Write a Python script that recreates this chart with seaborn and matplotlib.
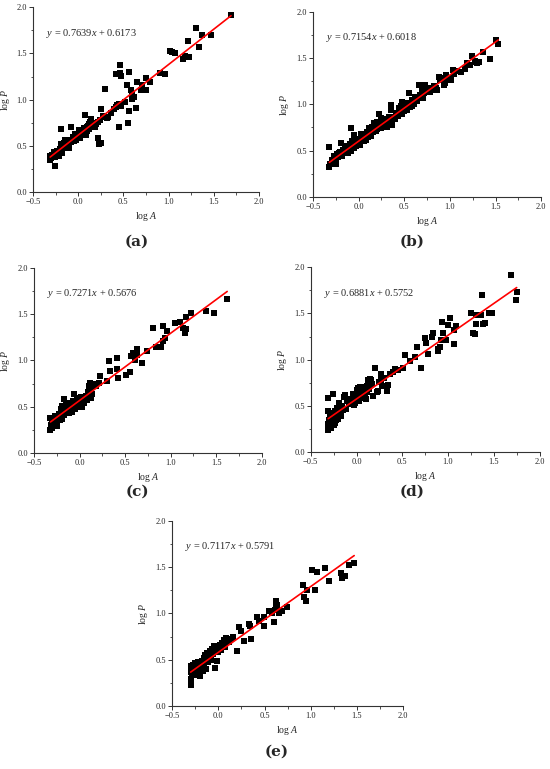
import matplotlib
matplotlib.use("Agg")
import matplotlib.pyplot as plt
import seaborn as sns
import numpy as np
from matplotlib.ticker import MultipleLocator

sns.set_style("ticks")
plt.rcParams['font.family'] = ['Liberation Serif', 'DejaVu Serif']
plt.rcParams['mathtext.fontset'] = 'custom'
plt.rcParams['mathtext.rm'] = 'Liberation Serif'
plt.rcParams['mathtext.it'] = 'Liberation Serif:italic'

# (log A, log P) points
a_points = [
    (1.69, 1.92), (1.30, 1.78), (1.37, 1.70), (1.47, 1.70), (1.34, 1.57), (1.21, 1.63),
    (1.18, 1.47), (1.16, 1.44), (1.23, 1.46), (1.01, 1.53), (1.04, 1.52), (1.07, 1.50),
    (0.96, 1.28), (0.90, 1.29), (0.75, 1.24), (0.79, 1.19), (0.65, 1.19), (0.71, 1.16),
    (0.75, 1.11), (0.69, 1.11), (0.58, 1.11), (0.46, 1.38), (0.42, 1.28), (0.46, 1.29),
    (0.47, 1.26), (0.56, 1.30), (0.54, 1.16), (0.30, 1.12), (0.60, 1.05), (0.62, 1.03),
    (0.59, 1.01), (0.52, 0.98), (0.47, 0.93), (0.42, 0.92), (0.45, 0.95), (0.64, 0.91),
    (0.56, 0.88), (0.45, 0.70), (0.55, 0.75), (0.25, 0.90), (0.07, 0.83), (0.30, 0.81),
    (0.33, 0.81), (0.22, 0.59), (0.25, 0.53), (0.23, 0.52), (-0.08, 0.70), (-0.19, 0.68),
    (-0.26, 0.28), (-0.31, 0.39), (-0.31, 0.35), (-0.30, 0.37), (-0.29, 0.40), (-0.27, 0.44),
    (-0.26, 0.38), (-0.25, 0.42), (-0.24, 0.45), (-0.23, 0.40), (-0.22, 0.43), (-0.21, 0.39),
    (-0.20, 0.47), (-0.19, 0.52), (-0.18, 0.50), (-0.18, 0.42), (-0.17, 0.48), (-0.16, 0.53),
    (-0.15, 0.57), (-0.14, 0.51), (-0.13, 0.55), (-0.12, 0.50), (-0.11, 0.53), (-0.10, 0.48),
    (-0.09, 0.56), (-0.08, 0.54), (-0.07, 0.57), (-0.06, 0.60), (-0.05, 0.55), (-0.04, 0.63),
    (-0.03, 0.58), (-0.02, 0.56), (-0.01, 0.60), (0.00, 0.62), (0.01, 0.67), (0.02, 0.59),
    (0.03, 0.64), (0.05, 0.66), (0.06, 0.69), (0.08, 0.64), (0.09, 0.62), (0.10, 0.70),
    (0.11, 0.72), (0.12, 0.68), (0.13, 0.76), (0.14, 0.79), (0.15, 0.73), (0.16, 0.70),
    (0.17, 0.72), (0.18, 0.75), (0.19, 0.71), (0.20, 0.74), (0.22, 0.76), (0.24, 0.78),
    (0.27, 0.82), (0.32, 0.80), (0.40, 0.90), (0.43, 0.94), (0.36, 0.86), (0.10, 0.66),
    (0.12, 0.74)]

b_points = [
    (1.50, 1.70), (1.53, 1.65), (1.36, 1.57), (1.24, 1.52), (1.28, 1.46), (1.32, 1.46),
    (1.19, 1.45), (1.08, 1.36), (1.03, 1.37), (0.96, 1.32), (0.88, 1.30), (0.92, 1.28),
    (0.86, 1.16), (0.95, 1.23), (0.79, 1.18), (0.73, 1.21), (0.66, 1.21), (0.69, 1.16),
    (0.62, 1.08), (0.55, 1.12), (0.47, 1.03), (0.35, 0.99), (0.36, 0.94), (0.22, 0.90),
    (-0.08, 0.74), (-0.32, 0.54), (-0.32, 0.32), (-0.31, 0.35), (-0.29, 0.40), (-0.28, 0.38),
    (-0.27, 0.44), (-0.26, 0.42), (-0.25, 0.40), (-0.24, 0.46), (-0.23, 0.43), (-0.22, 0.47),
    (-0.21, 0.44), (-0.20, 0.48), (-0.19, 0.58), (-0.18, 0.46), (-0.17, 0.51), (-0.16, 0.49),
    (-0.15, 0.55), (-0.14, 0.47), (-0.13, 0.53), (-0.12, 0.50), (-0.11, 0.54), (-0.10, 0.52),
    (-0.09, 0.57), (-0.08, 0.50), (-0.07, 0.60), (-0.06, 0.56), (-0.05, 0.67), (-0.04, 0.58),
    (-0.03, 0.55), (-0.02, 0.62), (-0.01, 0.59), (0.00, 0.57), (0.01, 0.63), (0.02, 0.60),
    (0.03, 0.68), (0.04, 0.62), (0.05, 0.65), (0.06, 0.60), (0.07, 0.68), (0.08, 0.66),
    (0.09, 0.70), (0.10, 0.65), (0.11, 0.74), (0.12, 0.68), (0.13, 0.72), (0.14, 0.66),
    (0.15, 0.75), (0.16, 0.70), (0.17, 0.80), (0.18, 0.73), (0.19, 0.71), (0.20, 0.81),
    (0.21, 0.76), (0.23, 0.79), (0.24, 0.74), (0.25, 0.85), (0.26, 0.78), (0.27, 0.76),
    (0.28, 0.82), (0.29, 0.79), (0.30, 0.84), (0.31, 0.76), (0.32, 0.80), (0.33, 0.83),
    (0.34, 0.85), (0.37, 0.78), (0.38, 0.86), (0.40, 0.84), (0.41, 0.88), (0.42, 0.91),
    (0.43, 0.87), (0.44, 0.96), (0.45, 0.92), (0.46, 0.98), (0.48, 0.90), (0.49, 0.95),
    (0.50, 0.93), (0.51, 0.99), (0.52, 0.96), (0.53, 0.94), (0.54, 1.02), (0.56, 0.97),
    (0.57, 1.00), (0.58, 0.98), (0.59, 1.05), (0.60, 1.03), (0.61, 1.00), (0.63, 1.06),
    (0.64, 1.04), (0.65, 1.08), (0.67, 1.10), (0.70, 1.07), (0.72, 1.12), (0.74, 1.14),
    (0.76, 1.17), (0.78, 1.13), (0.81, 1.15), (0.83, 1.20), (0.85, 1.18), (0.89, 1.26),
    (0.93, 1.21), (0.98, 1.29), (1.01, 1.26), (1.05, 1.33), (1.12, 1.35), (1.16, 1.38),
    (1.22, 1.42), (1.27, 1.47), (1.30, 1.45), (1.44, 1.49), (-0.25, 0.36), (-0.18, 0.44),
    (-0.12, 0.47), (-0.05, 0.53), (0.02, 0.56), (0.08, 0.61), (0.14, 0.69), (0.20, 0.73),
    (0.26, 0.77), (0.33, 0.86)]

c_points = [
    (1.62, 1.665), (1.48, 1.51), (1.39, 1.53), (1.22, 1.51), (1.17, 1.47), (1.10, 1.42),
    (1.05, 1.41), (1.14, 1.35), (1.16, 1.33), (1.16, 1.30), (1.17, 1.34), (0.92, 1.37),
    (0.80, 1.35), (0.96, 1.32), (0.94, 1.24), (0.92, 1.21), (0.89, 1.15), (0.84, 1.14),
    (0.74, 1.10), (0.68, 0.97), (0.63, 1.12), (0.59, 1.08), (0.56, 1.05), (0.61, 1.01),
    (0.63, 1.06), (0.55, 0.88), (0.51, 0.84), (0.41, 1.03), (0.32, 0.99), (0.33, 0.89),
    (0.41, 0.91), (0.42, 0.81), (0.30, 0.78), (0.22, 0.83), (0.21, 0.76), (0.16, 0.74),
    (0.12, 0.59), (0.11, 0.76), (0.10, 0.72), (-0.32, 0.25), (-0.29, 0.29), (-0.27, 0.32),
    (-0.32, 0.38), (-0.17, 0.58), (-0.06, 0.64), (-0.31, 0.30), (-0.30, 0.35), (-0.30, 0.27),
    (-0.28, 0.33), (-0.27, 0.40), (-0.26, 0.37), (-0.25, 0.29), (-0.23, 0.42), (-0.22, 0.36),
    (-0.20, 0.47), (-0.19, 0.51), (-0.19, 0.37), (-0.18, 0.44), (-0.17, 0.41), (-0.16, 0.48),
    (-0.15, 0.52), (-0.14, 0.45), (-0.13, 0.49), (-0.12, 0.43), (-0.11, 0.54), (-0.10, 0.47),
    (-0.09, 0.51), (-0.08, 0.44), (-0.07, 0.56), (-0.05, 0.48), (-0.04, 0.53), (-0.03, 0.59),
    (-0.02, 0.50), (-0.01, 0.55), (0.00, 0.52), (0.01, 0.61), (0.02, 0.57), (0.03, 0.50),
    (0.04, 0.60), (0.05, 0.54), (0.06, 0.58), (0.07, 0.62), (0.08, 0.57), (0.09, 0.66),
    (0.13, 0.69), (0.14, 0.64), (0.18, 0.72)]

d_points = [
    (1.69, 1.92), (1.75, 1.73), (1.74, 1.65), (1.37, 1.70), (1.25, 1.50), (1.31, 1.48),
    (1.36, 1.48), (1.48, 1.50), (1.45, 1.50), (1.40, 1.40), (1.38, 1.39), (1.31, 1.39),
    (1.27, 1.29), (1.30, 1.28), (1.02, 1.45), (0.93, 1.41), (1.00, 1.38), (1.09, 1.36),
    (1.07, 1.32), (0.94, 1.29), (0.84, 1.29), (0.82, 1.25), (0.98, 1.21), (0.92, 1.21),
    (1.07, 1.17), (0.91, 1.14), (0.89, 1.12), (0.89, 1.09), (0.75, 1.23), (0.76, 1.18),
    (0.78, 1.06), (0.66, 1.14), (0.70, 0.91), (0.64, 1.03), (0.58, 0.99), (0.53, 1.05),
    (0.51, 0.91), (0.42, 0.90), (0.40, 0.87), (0.34, 0.73), (0.33, 0.66), (0.27, 0.84),
    (0.27, 0.78), (0.28, 0.71), (0.24, 0.66), (0.20, 0.91), (0.16, 0.78), (0.13, 0.78),
    (-0.31, 0.59), (-0.26, 0.63), (-0.31, 0.44), (-0.31, 0.24), (-0.31, 0.30), (-0.30, 0.35),
    (-0.30, 0.27), (-0.29, 0.40), (-0.28, 0.32), (-0.28, 0.26), (-0.27, 0.37), (-0.26, 0.42),
    (-0.25, 0.29), (-0.25, 0.34), (-0.24, 0.45), (-0.23, 0.31), (-0.22, 0.38), (-0.21, 0.48),
    (-0.20, 0.36), (-0.19, 0.53), (-0.18, 0.42), (-0.17, 0.39), (-0.16, 0.50), (-0.15, 0.46),
    (-0.14, 0.60), (-0.12, 0.47), (-0.10, 0.55), (-0.08, 0.52), (-0.06, 0.58), (-0.04, 0.63),
    (-0.02, 0.53), (-0.01, 0.60), (0.00, 0.67), (0.00, 0.57), (0.01, 0.64), (0.02, 0.69),
    (0.03, 0.55), (0.04, 0.62), (0.05, 0.66), (0.06, 0.59), (0.07, 0.68), (0.08, 0.63),
    (0.09, 0.70), (0.10, 0.57), (0.11, 0.65), (0.12, 0.72), (0.14, 0.68), (0.15, 0.79),
    (0.17, 0.74), (0.18, 0.61), (0.22, 0.65), (0.25, 0.76), (0.30, 0.80), (0.37, 0.85),
    (0.45, 0.89), (-0.22, 0.35), (-0.18, 0.41), (-0.13, 0.62), (-0.03, 0.51), (0.04, 0.70),
    (0.09, 0.61)]

e_points = [
    (1.47, 1.55), (1.41, 1.52), (1.33, 1.44), (1.34, 1.38), (1.37, 1.41), (1.20, 1.35),
    (1.15, 1.49), (1.07, 1.45), (1.01, 1.47), (1.05, 1.25), (0.96, 1.25), (0.92, 1.31),
    (0.93, 1.18), (0.95, 1.13), (0.74, 1.07), (0.69, 1.03), (0.66, 1.00), (0.62, 1.13),
    (0.63, 1.09), (0.62, 1.07), (0.61, 1.04), (0.58, 1.01), (0.60, 0.91), (0.55, 1.03),
    (0.49, 0.96), (0.42, 0.96), (0.44, 0.92), (0.49, 0.86), (0.35, 0.72), (0.33, 0.89),
    (0.34, 0.86), (0.28, 0.70), (0.22, 0.85), (0.24, 0.81), (0.20, 0.59), (0.14, 0.72),
    (0.10, 0.70), (0.06, 0.71), (0.05, 0.66), (-0.30, 0.23), (-0.30, 0.29), (-0.30, 0.43),
    (-0.04, 0.41), (-0.02, 0.49), (-0.30, 0.37), (-0.29, 0.40), (-0.28, 0.34), (-0.27, 0.44),
    (-0.26, 0.38), (-0.25, 0.46), (-0.24, 0.33), (-0.23, 0.41), (-0.22, 0.47), (-0.21, 0.36),
    (-0.20, 0.32), (-0.19, 0.43), (-0.18, 0.49), (-0.17, 0.38), (-0.16, 0.52), (-0.15, 0.45),
    (-0.14, 0.55), (-0.13, 0.40), (-0.12, 0.57), (-0.11, 0.48), (-0.10, 0.53), (-0.09, 0.59),
    (-0.08, 0.50), (-0.07, 0.62), (-0.06, 0.56), (-0.05, 0.65), (-0.03, 0.60), (-0.01, 0.64),
    (0.00, 0.58), (0.01, 0.62), (0.02, 0.66), (0.03, 0.60), (0.04, 0.68), (0.07, 0.64),
    (0.08, 0.73), (0.12, 0.69), (0.16, 0.74)]

equations = ["y = 0.7639x + 0.6173", "y = 0.7154x + 0.6018", "y = 0.7271x + 0.5676",
             "y = 0.6881x + 0.5752", "y = 0.7117x + 0.5791"]
slopes = [0.7639, 0.7154, 0.7271, 0.6881, 0.7117]
intercepts = [0.6173, 0.6018, 0.5676, 0.5752, 0.5791]
panel_labels = ["(a)", "(b)", "(c)", "(d)", "(e)"]

# axes rectangles in figure fractions
rects = [[0.060, 0.750, 0.411, 0.2406],
         [0.569, 0.744, 0.415, 0.2406],
         [0.062, 0.411, 0.414, 0.2406],
         [0.565, 0.412, 0.416, 0.2406],
         [0.313, 0.082, 0.420, 0.2406]]
label_pos = [(137, 242), (412, 242), (137, 492), (412, 492), (277, 752)]

fig = plt.figure(figsize=(5.5, 7.69), dpi=100)

datasets = [a_points, b_points, c_points, d_points, e_points]
for i, pts in enumerate(datasets):
    xs = [p[0] for p in pts]
    ys = [p[1] for p in pts]
    ax = fig.add_axes(rects[i])
    sns.scatterplot(x=xs, y=ys, marker='s', color='black', s=14, linewidth=0, ax=ax, zorder=2)
    # fitted line over the data range
    line_x = np.array([min(xs), max(xs)])
    line_y = slopes[i] * line_x + intercepts[i]
    sns.lineplot(x=line_x, y=line_y, color='#ff0000', linewidth=1.2, ax=ax, zorder=3)

    ax.set_xlim(-0.5, 2.0)
    ax.set_ylim(0.0, 2.0)
    ax.xaxis.set_major_locator(MultipleLocator(0.5))
    ax.yaxis.set_major_locator(MultipleLocator(0.5))
    ax.xaxis.set_minor_locator(MultipleLocator(0.25))
    ax.yaxis.set_minor_locator(MultipleLocator(0.25))
    ax.tick_params(which='major', direction='out', length=3, width=0.7, labelsize=6, pad=1.2, color='#333333')
    ax.tick_params(which='minor', direction='out', length=1.8, width=0.6, color='#333333')
    sns.despine(ax=ax)
    for s in ['left', 'bottom']:
        ax.spines[s].set_linewidth(0.8)
        ax.spines[s].set_color('#333333')
    ax.set_xlabel(r'log $\mathit{A}$', fontsize=7, labelpad=3)
    ax.set_ylabel(r'log $\mathit{P}$', fontsize=7)
    ax.yaxis.set_label_coords(-0.095, 0.5)

    eq = equations[i].replace('y =', r'$\mathit{y}$ =').replace('x +', r'$\mathit{x}$ +')
    ax.text(-0.36, 1.72, eq, fontsize=7.5, ha='left', va='center')

    lx, ly = label_pos[i]
    fig.text(lx / 550, 1 - ly / 769, panel_labels[i], fontsize=11, fontweight='bold',
             ha='center', va='center', family=['DejaVu Serif'])

fig.savefig("out.png", dpi=100)
